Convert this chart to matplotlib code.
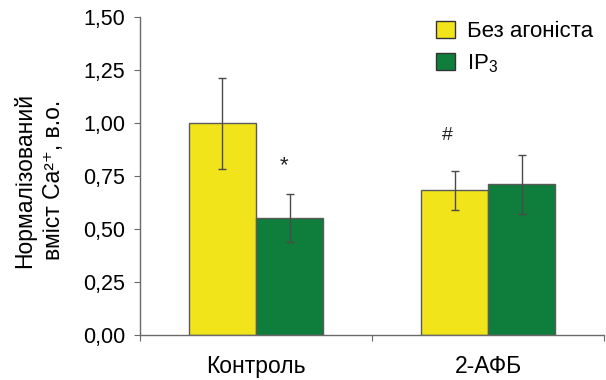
import matplotlib
matplotlib.use("Agg")
import matplotlib.pyplot as plt
from matplotlib.patches import Patch
import numpy as np

plt.rcParams['font.family'] = ['Liberation Sans', 'DejaVu Sans']
plt.rcParams['mathtext.fontset'] = 'custom'
plt.rcParams['mathtext.rm'] = 'Liberation Sans'
plt.rcParams['mathtext.it'] = 'Liberation Sans'

categories = ["Контроль", "2-АФБ"]
series_names = ["Без агоніста", "IP$_\\mathregular{3}$"]
no_agonist = [1.00, 0.684]
no_agonist_err = [0.215, 0.092]
ip3 = [0.552, 0.712]
ip3_err = [0.115, 0.139]
marks = ["", "#"]          # above no-agonist bars
marks_ip3 = ["*", ""]      # above IP3 bars
mark_y = [0.94, 0.80]
yticks = [0.0, 0.25, 0.5, 0.75, 1.0, 1.25, 1.5]
ytick_labels = ["0,00", "0,25", "0,50", "0,75", "1,00", "1,25", "1,50"]

yellow = "#F1E41B"
green = "#0F7D3B"
edge = "#5a5a5a"
axc = "#6a6a6a"

fig = plt.figure(figsize=(6.06, 3.8), dpi=100)
ax = fig.add_axes([0.231, 0.1184, 0.766, 0.8366])

x = np.arange(len(categories)) + 0.5
w = 0.289
ax.bar(x - w / 2, no_agonist, w, color=yellow, edgecolor=edge, linewidth=1.0, zorder=2)
ax.bar(x + w / 2, ip3, w, color=green, edgecolor=edge, linewidth=1.0, zorder=2)
ax.errorbar(x - w / 2, no_agonist, yerr=no_agonist_err, fmt="none", ecolor="#4a4a4a",
            elinewidth=1.0, capsize=3, capthick=1.0, zorder=3)
ax.errorbar(x + w / 2, ip3, yerr=ip3_err, fmt="none", ecolor="#4a4a4a",
            elinewidth=1.0, capsize=3, capthick=1.0, zorder=3)

for i in range(len(categories)):
    if marks[i]:
        ax.text(x[i] - w / 2 - 0.03, mark_y[0], marks[i], ha="center", va="center", fontsize=14, color="#222")
    if marks_ip3[i]:
        ax.text(x[i] + w / 2 - 0.025, mark_y[1], marks_ip3[i], ha="center", va="center", fontsize=16, color="#222")

ax.set_xlim(0, 2)
ax.set_ylim(0, 1.5)
ax.set_yticks(yticks)
ax.set_yticklabels(ytick_labels)
ax.set_xticks([0, 1, 2])
ax.set_xticklabels([])
ax.set_xticks(x, minor=True)
ax.set_xticklabels(categories, minor=True)
ax.tick_params(axis="x", which="minor", length=0, pad=14.5, labelsize=16.5)
ax.tick_params(axis="x", which="major", length=4.5, direction="out", color=axc)
ax.tick_params(axis="y", length=4.5, direction="out", color=axc, labelsize=15.5, pad=6)

for s in ["top", "right"]:
    ax.spines[s].set_visible(False)
for s in ["left", "bottom"]:
    ax.spines[s].set_color(axc)
    ax.spines[s].set_linewidth(1.0)

fig.text(0.041, 0.526, "Нормалізований", rotation=90, ha="center", va="center", fontsize=16.5)
fig.text(0.089, 0.526, "вміст Ca²⁺, в.о.", rotation=90, ha="center", va="center",
         fontsize=16.5, family=['Liberation Sans', 'DejaVu Sans'])

handles = [Patch(facecolor=yellow, edgecolor="#333", linewidth=1.0),
           Patch(facecolor=green, edgecolor="#333", linewidth=1.0)]
leg = fig.legend(handles, series_names, loc="upper left", bbox_to_anchor=(0.686, 0.998),
                 frameon=False, fontsize=16, handlelength=0.85, handleheight=0.85,
                 handletextpad=0.55, labelspacing=0.45)

fig.savefig("out.png", dpi=100)
